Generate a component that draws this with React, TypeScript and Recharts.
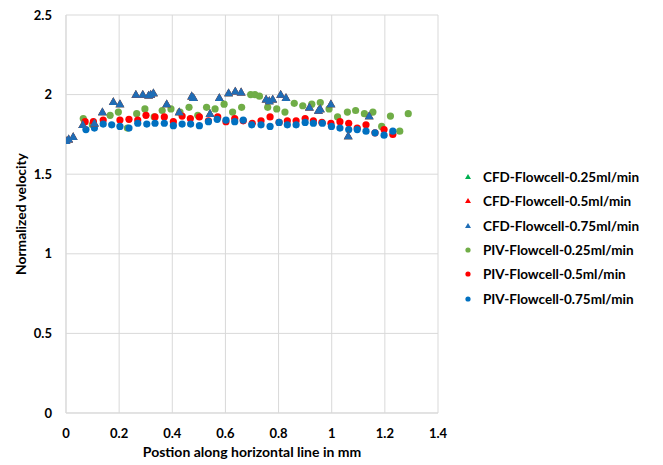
import React from 'react';
import { ScatterChart, Scatter, XAxis, YAxis, CartesianGrid, Label } from 'recharts';

// CFD profiles (normalized velocity vs. position, mm)
const cfdX = [0.0, 0.01, 0.027, 0.063, 0.107, 0.137, 0.178, 0.203, 0.263, 0.289, 0.311, 0.319, 0.329, 0.379, 0.426, 0.473, 0.48, 0.542, 0.577, 0.612, 0.637, 0.659, 0.753, 0.765, 0.778, 0.808, 0.828, 0.916, 0.95, 0.957, 0.997, 1.062, 1.141];
const cfd025Y = [1.71, 1.72, 1.735, 1.81, 1.82, 1.89, 1.955, 1.94, 2.0, 2.0, 1.995, 2.0, 2.01, 1.94, 1.89, 1.99, 1.98, 1.88, 1.98, 2.01, 2.02, 2.015, 1.97, 1.96, 1.97, 2.0, 1.98, 1.92, 1.9, 1.91, 1.94, 1.74, 1.865];
const cfd05Y = [1.71, 1.72, 1.735, 1.81, 1.82, 1.89, 1.955, 1.94, 2.0, 2.0, 1.995, 2.0, 2.01, 1.94, 1.89, 1.99, 1.98, 1.88, 1.98, 2.01, 2.02, 2.015, 1.97, 1.96, 1.97, 2.0, 1.98, 1.92, 1.9, 1.91, 1.94, 1.74, 1.865];
const cfd075Y = [1.71, 1.72, 1.735, 1.81, 1.82, 1.89, 1.955, 1.94, 2.0, 2.0, 1.995, 2.0, 2.01, 1.94, 1.89, 1.99, 1.98, 1.88, 1.98, 2.01, 2.02, 2.015, 1.97, 1.96, 1.97, 2.0, 1.98, 1.92, 1.9, 1.91, 1.94, 1.74, 1.865];

// PIV measurements
const piv025X = [0.065, 0.099, 0.166, 0.197, 0.231, 0.266, 0.297, 0.332, 0.362, 0.395, 0.429, 0.463, 0.496, 0.529, 0.561, 0.595, 0.627, 0.661, 0.695, 0.711, 0.728, 0.759, 0.793, 0.824, 0.859, 0.891, 0.925, 0.957, 0.99, 1.022, 1.059, 1.09, 1.123, 1.155, 1.188, 1.221, 1.256, 1.288];
const piv025Y = [1.85, 1.81, 1.87, 1.89, 1.79, 1.88, 1.91, 1.86, 1.9, 1.91, 1.89, 1.92, 1.87, 1.92, 1.91, 1.94, 1.89, 1.92, 2.0, 2.0, 1.99, 1.92, 1.91, 1.89, 1.945, 1.93, 1.94, 1.95, 1.91, 1.86, 1.89, 1.9, 1.88, 1.89, 1.8, 1.865, 1.77, 1.88];

const piv05X = [0.072, 0.103, 0.14, 0.203, 0.237, 0.27, 0.301, 0.335, 0.37, 0.404, 0.437, 0.468, 0.502, 0.536, 0.571, 0.602, 0.635, 0.667, 0.701, 0.734, 0.768, 0.802, 0.833, 0.866, 0.9, 0.931, 0.963, 0.997, 1.031, 1.064, 1.096, 1.129, 1.163, 1.197, 1.23];
const piv05Y = [1.83, 1.83, 1.84, 1.84, 1.845, 1.84, 1.87, 1.86, 1.86, 1.83, 1.865, 1.85, 1.86, 1.835, 1.86, 1.83, 1.85, 1.835, 1.82, 1.835, 1.86, 1.825, 1.835, 1.835, 1.85, 1.835, 1.825, 1.82, 1.83, 1.82, 1.79, 1.81, 1.76, 1.78, 1.75];

const piv075X = [0.075, 0.107, 0.14, 0.172, 0.203, 0.237, 0.27, 0.304, 0.335, 0.37, 0.404, 0.437, 0.469, 0.502, 0.536, 0.569, 0.602, 0.635, 0.667, 0.699, 0.734, 0.768, 0.802, 0.833, 0.866, 0.9, 0.931, 0.965, 0.999, 1.031, 1.064, 1.096, 1.129, 1.163, 1.197, 1.23];
const piv075Y = [1.78, 1.79, 1.815, 1.81, 1.8, 1.79, 1.82, 1.815, 1.82, 1.82, 1.805, 1.815, 1.815, 1.805, 1.83, 1.845, 1.84, 1.83, 1.84, 1.81, 1.81, 1.8, 1.825, 1.81, 1.81, 1.825, 1.82, 1.82, 1.8, 1.79, 1.78, 1.78, 1.77, 1.76, 1.745, 1.77];

const xTicks = [0, 0.2, 0.4, 0.6, 0.8, 1, 1.2, 1.4];
const yTicks = [0, 0.5, 1, 1.5, 2, 2.5];

const seriesNames = [
  'CFD-Flowcell-0.25ml/min',
  'CFD-Flowcell-0.5ml/min',
  'CFD-Flowcell-0.75ml/min',
  'PIV-Flowcell-0.25ml/min',
  'PIV-Flowcell-0.5ml/min',
  'PIV-Flowcell-0.75ml/min',
];

const COLORS = {
  cfdGreen: '#00B050',
  cfdRed: '#FF0000',
  cfdBlue: '#1F6DB5',
  pivGreen: '#70AD47',
  pivRed: '#FF0000',
  pivBlue: '#0070C0',
};

const FONT = 'Lato, "Liberation Sans", sans-serif';

const toPoints = (xs: number[], ys: number[]) => xs.map((x, i) => ({ x, y: ys[i] }));

const circleShape = (color: string) => (props: any) => {
  const { cx, cy } = props;
  if (cx == null || cy == null) return <g />;
  return <circle cx={cx} cy={cy} r={3.6} fill={color} />;
};

const triangleShape = (color: string) => (props: any) => {
  const { cx, cy } = props;
  if (cx == null || cy == null) return <g />;
  const pts = `${cx},${cy - 4.6} ${cx - 4.4},${cy + 3.2} ${cx + 4.4},${cy + 3.2}`;
  return <polygon points={pts} fill={color} />;
};

const YTitle = (props: any) => {
  const { viewBox } = props;
  const cy = viewBox.y + viewBox.height / 2;
  return (
    <text
      x={20}
      y={cy}
      transform={`rotate(-90, 20, ${cy})`}
      textAnchor="middle"
      dominantBaseline="central"
      fontFamily={FONT}
      fontWeight={700}
      fontSize={13.8}
      fill="#000"
    >
      Normalized velocity
    </text>
  );
};

const legendItems = [
  { name: seriesNames[0], color: COLORS.cfdGreen, kind: 'tri' },
  { name: seriesNames[1], color: COLORS.cfdRed, kind: 'tri' },
  { name: seriesNames[2], color: COLORS.cfdBlue, kind: 'tri' },
  { name: seriesNames[3], color: COLORS.pivGreen, kind: 'dot' },
  { name: seriesNames[4], color: COLORS.pivRed, kind: 'dot' },
  { name: seriesNames[5], color: COLORS.pivBlue, kind: 'dot' },
];

const ChartLegend = () => (
  <div style={{ position: 'absolute', left: 462, top: 165, fontFamily: FONT, fontWeight: 700, fontSize: 13.5, color: '#000' }}>
    {legendItems.map((it) => (
      <div key={it.name} style={{ display: 'flex', alignItems: 'center', height: 24.3 }}>
        <svg width={14} height={10} style={{ marginRight: 7 }}>
          {it.kind === 'tri' ? (
            <polygon points="6,2 3,7 9,7" fill={it.color} />
          ) : (
            <circle cx={6} cy={5} r={2.6} fill={it.color} />
          )}
        </svg>
        <span>{it.name}</span>
      </div>
    ))}
  </div>
);

export default function App() {
  const tickStyle = { fontFamily: FONT, fontWeight: 700, fontSize: 13, fill: '#000' };
  return (
    <div style={{ position: 'absolute', left: 0, top: 0, width: 663, height: 465, background: '#fff' }}>
      <ScatterChart width={663} height={465} margin={{ top: 15, right: 225, bottom: 0, left: 0 }}>
        <CartesianGrid stroke="#D9D9D9" strokeWidth={1} />
        <XAxis
          type="number"
          dataKey="x"
          domain={[0, 1.4]}
          ticks={xTicks}
          interval={0}
          height={52}
          tickSize={0}
          tickMargin={16}
          axisLine={{ stroke: '#D9D9D9' }}
          tick={tickStyle}
          allowDataOverflow
        >
          <Label
            value="Postion along horizontal line in mm"
            position="insideBottom"
            offset={8}
            style={{ fontFamily: FONT, fontWeight: 700, fontSize: 14, fill: '#000' }}
          />
        </XAxis>
        <YAxis
          type="number"
          dataKey="y"
          domain={[0, 2.5]}
          ticks={yTicks}
          interval={0}
          width={66}
          tickSize={0}
          tickMargin={14}
          axisLine={{ stroke: '#D9D9D9' }}
          tick={tickStyle}
          allowDataOverflow
        >
          <Label content={<YTitle />} />
        </YAxis>
        <Scatter name={seriesNames[3]} data={toPoints(piv025X, piv025Y)} shape={circleShape(COLORS.pivGreen)} isAnimationActive={false} />
        <Scatter name={seriesNames[4]} data={toPoints(piv05X, piv05Y)} shape={circleShape(COLORS.pivRed)} isAnimationActive={false} />
        <Scatter name={seriesNames[5]} data={toPoints(piv075X, piv075Y)} shape={circleShape(COLORS.pivBlue)} isAnimationActive={false} />
        <Scatter name={seriesNames[0]} data={toPoints(cfdX, cfd025Y)} shape={triangleShape(COLORS.cfdGreen)} isAnimationActive={false} />
        <Scatter name={seriesNames[1]} data={toPoints(cfdX, cfd05Y)} shape={triangleShape(COLORS.cfdRed)} isAnimationActive={false} />
        <Scatter name={seriesNames[2]} data={toPoints(cfdX, cfd075Y)} shape={triangleShape(COLORS.cfdBlue)} isAnimationActive={false} />
      </ScatterChart>
      <ChartLegend />
    </div>
  );
}
